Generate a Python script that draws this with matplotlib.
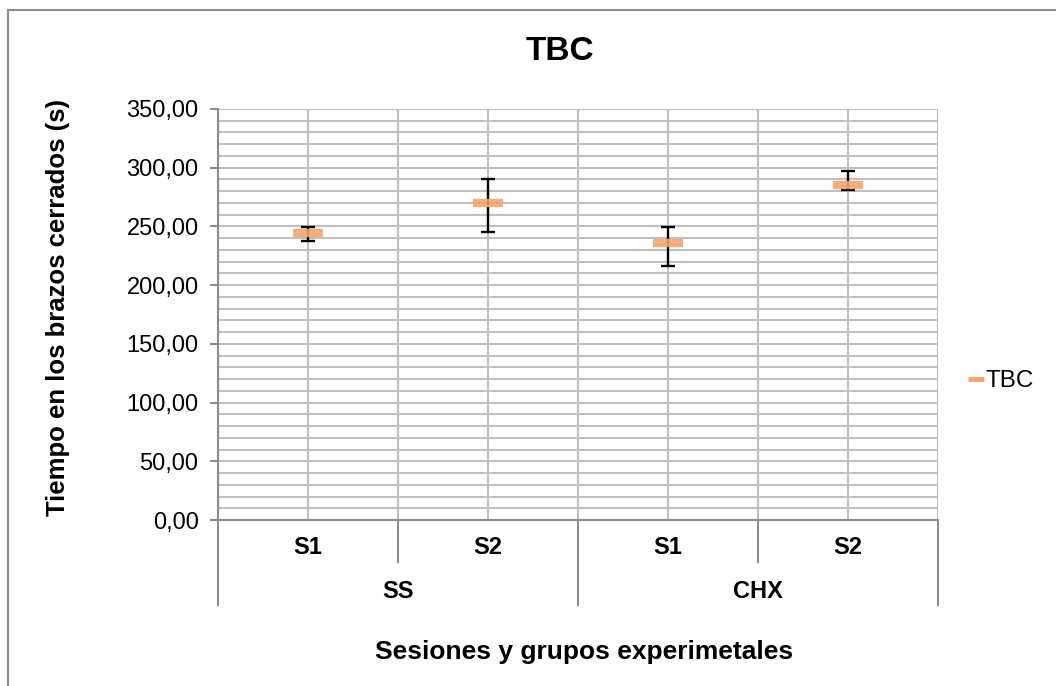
import matplotlib.pyplot as plt
from matplotlib.ticker import MultipleLocator, FuncFormatter
from matplotlib.lines import Line2D

plt.rcParams['font.family'] = ['Liberation Sans', 'DejaVu Sans']

# Data
sessions = ["S1", "S2", "S1", "S2"]
groups = ["SS", "CHX"]
tbc = [244.7, 270.0, 235.7, 285.1]
err_low = [7.1, 24.7, 19.6, 4.3]
err_high = [5.2, 20.5, 13.6, 12.2]

fig = plt.figure(figsize=(10.56, 6.86), dpi=100)
W, H = 1056, 686

# outer frame (left and top only visible)
fig.add_artist(Line2D([8 / W, 8 / W], [0, 1 - 10 / H], color="#8c8c8c", lw=1.5))
fig.add_artist(Line2D([8 / W, 1], [1 - 10 / H, 1 - 10 / H], color="#8c8c8c", lw=1.5))

ax = fig.add_axes([218 / W, 1 - 520 / H, 720 / W, 411 / H])

x = [0.5, 1.5, 2.5, 3.5]
ax.errorbar(x, tbc, yerr=[err_low, err_high], fmt="none", ecolor="black",
            elinewidth=1.7, capsize=4.7, capthick=1.7, zorder=3)
ax.plot(x, tbc, linestyle="none", marker="_", markersize=21,
        markeredgewidth=6, color="#F4A56A", alpha=0.9, zorder=4)

ax.set_xlim(0, 4)
ax.set_ylim(0, 350)
ax.yaxis.set_major_locator(MultipleLocator(50))
ax.yaxis.set_minor_locator(MultipleLocator(10))
ax.yaxis.set_major_formatter(FuncFormatter(lambda v, p: f"{v:.2f}".replace(".", ",")))
ax.set_xticks([0, 0.5, 1, 1.5, 2, 2.5, 3, 3.5, 4])
ax.set_xticklabels([])
ax.tick_params(axis="x", length=0)
ax.tick_params(axis="y", which="major", length=6, width=1.5, color="#8c8c8c",
               labelsize=17, pad=8)
ax.tick_params(axis="y", which="minor", length=0)
ax.grid(True, which="both", color="#c0c0c0", lw=1.5)
ax.set_axisbelow(True)
for s in ["top", "right"]:
    ax.spines[s].set_visible(False)
for s in ["left", "bottom"]:
    ax.spines[s].set_color("#8c8c8c")
    ax.spines[s].set_linewidth(1.5)

# category axis
tr = ax.get_xaxis_transform()
for xv in [1, 3]:
    ax.plot([xv, xv], [0, -0.102], transform=tr, color="#8c8c8c", lw=1.5, clip_on=False)
for xv in [0, 2, 4]:
    ax.plot([xv, xv], [0, -0.207], transform=tr, color="#8c8c8c", lw=1.5, clip_on=False)
for xv, lab in zip(x, sessions):
    ax.text(xv, -0.068, lab, transform=tr, ha="center", va="center",
            fontsize=17, fontweight="bold")
for xv, lab in zip([1, 3], groups):
    ax.text(xv, -0.175, lab, transform=tr, ha="center", va="center",
            fontsize=17, fontweight="bold")

fig.text(560 / W, 1 - 52 / H, "TBC", ha="center", va="center",
         fontsize=24, fontweight="bold")
fig.text(584 / W, 1 - 652 / H, "Sesiones y grupos experimetales", ha="center",
         va="center", fontsize=19, fontweight="bold")
fig.text(58 / W, 1 - 307 / H, "Tiempo en los brazos cerrados (s)", ha="center",
         va="center", rotation=90, fontsize=18.5, fontweight="bold")

handle = Line2D([], [], linestyle="none", marker="_", markersize=11,
                markeredgewidth=3.5, color="#F4A56A")
fig.legend([handle], ["TBC"], loc="center left", bbox_to_anchor=(948 / W, 1 - 381 / H),
           frameon=False, fontsize=17.5, handlelength=0.5, handletextpad=0.15)

fig.savefig("out.png", dpi=100)
